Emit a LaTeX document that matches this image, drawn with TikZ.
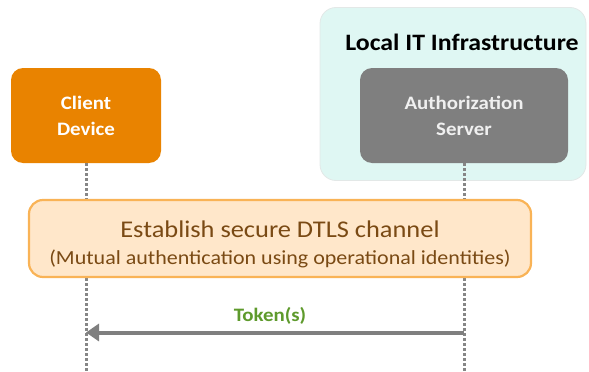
\documentclass[tikz,border=0pt]{standalone}
\usepackage{fontspec}
\setmainfont{Carlito}[FakeStretch=1.1]
\usetikzlibrary{arrows.meta}
\definecolor{clientorange}{HTML}{E98300}
\definecolor{servergray}{HTML}{7F7F7F}
\definecolor{infracyan}{HTML}{DFF7F3}
\definecolor{infraedge}{HTML}{E3E8E7}
\definecolor{dtlsfill}{HTML}{FFE7CA}
\definecolor{dtlsedge}{HTML}{F9B356}
\definecolor{dtlstext}{HTML}{7A4A14}
\definecolor{tokgreen}{HTML}{5E9A2C}
\definecolor{lifegray}{HTML}{868686}
\tikzset{
  actor/.style={rounded corners=12pt, minimum width=150pt, minimum height=95pt,
    align=center, font=\bfseries\fontsize{19}{26}\selectfont, inner sep=0pt},
  lifeline/.style={draw=lifegray, line width=3pt, dash pattern=on 3pt off 2pt},
  msg/.style={draw=servergray, line width=4pt, -{Triangle[length=13pt,width=17pt]}},
}
\begin{document}
\begin{tikzpicture}[x=1pt,y=-1pt]
\useasboundingbox (0,0) rectangle (589,372);
% infrastructure region
\node[draw=infraedge, line width=0.8pt, fill=infracyan, rounded corners=16pt,
  minimum width=266pt, minimum height=173pt, inner sep=0pt] (infra) at (453,94) {};
\node[font=\bfseries\fontsize{23.5}{28}\selectfont, anchor=base] (infralabel) at (462,50) {Local IT Infrastructure};
% actors
\node[actor, fill=clientorange, text=white, minimum width=150pt] (client) at (86,115.5) {Client\\Device};
\node[actor, fill=servergray, text=white!94!black, minimum width=208pt] (server) at (464,115.5) {Authorization\\Server};
% lifeline ends
\coordinate (clientend) at (86,372);
\coordinate (serverend) at (464,372);
\draw[lifeline] (client.south) -- (clientend);
\draw[lifeline] (server.south) -- (serverend);
% DTLS box
\node[draw=dtlsedge, line width=2.2pt, fill=dtlsfill, rounded corners=14pt,
  minimum width=502pt, minimum height=77pt, inner sep=0pt] (dtls) at (280,238.5) {};
\node[text=dtlstext, align=center, font=\fontsize{20}{27}\selectfont, inner sep=0pt,
  yshift=-6pt] (dtlstxt) at (dtls.center)
  {{\fontsize{24}{27}\selectfont Establish secure DTLS channel}\\
   (Mutual authentication using operational identities)};
% token message
\coordinate (tokfrom) at (464,332.5);
\coordinate (tokto) at (86,332.5);
\draw[msg] (tokfrom) -- (tokto);
\node[font=\bfseries\fontsize{19}{22}\selectfont, text=tokgreen, anchor=base] (toklabel) at (270,321.5) {Token(s)};
\end{tikzpicture}
\end{document}
